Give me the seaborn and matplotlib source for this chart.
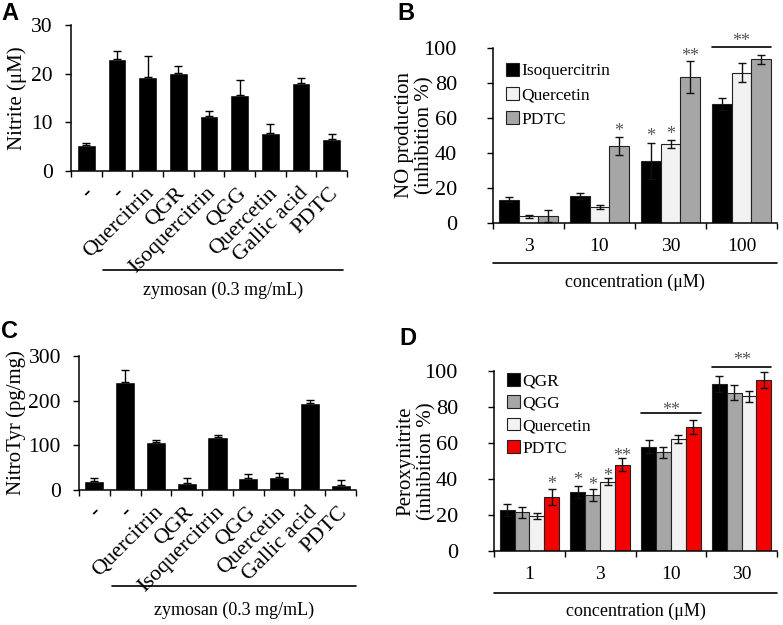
import numpy as np
import pandas as pd
import matplotlib
matplotlib.use("Agg")
import matplotlib.pyplot as plt
import matplotlib.transforms as mtransforms
from matplotlib.patches import Patch
import seaborn as sns

sns.set_theme(style="ticks")
plt.rcParams["font.family"] = ["Liberation Serif", "DejaVu Serif"]
plt.rcParams["text.color"] = "black"
plt.rcParams["axes.labelcolor"] = "black"
plt.rcParams["xtick.color"] = "black"
plt.rcParams["ytick.color"] = "black"
plt.rcParams["axes.edgecolor"] = "black"

# ---------------- data ----------------
treatments = ["-", "-", "Quercitrin", "QGR", "Isoquercitrin", "QGG",
              "Quercetin", "Gallic acid", "PDTC"]
nitrite = [5.4, 23.1, 19.3, 20.2, 11.2, 15.7, 7.9, 18.1, 6.6]
nitrite_err = [0.3, 1.6, 4.4, 1.4, 1.2, 2.9, 1.8, 1.1, 1.0]
nitrotyr = [19.6, 242, 107, 16.6, 119, 26.4, 30, 194, 11.3]
nitrotyr_err = [6.8, 27, 5, 9.8, 5, 9.6, 7.7, 7, 11.3]

conc_B = ["3", "10", "30", "100"]
series_B = ["Isoquercitrin", "Quercetin", "PDTC"]
isoq_B = [13.3, 15.6, 35.3, 68.0]
isoq_B_err = [1.5, 1.6, 10.4, 3.5]
quer_B = [3.8, 9.1, 45.0, 86.0]
quer_B_err = [1.0, 1.2, 2.4, 5.3]
pdtc_B = [3.8, 44.0, 83.5, 93.5]
pdtc_B_err = [3.4, 5.3, 9.2, 2.7]
colors_B = ["#000000", "#f2f2f2", "#a6a6a6"]
stars_B = [("Isoquercitrin", "30", "*", 52), ("Quercetin", "30", "*", 53),
           ("PDTC", "10", "*", 55), ("PDTC", "30", "**", 98)]
bracket_B = [("100", 100.8, 106.5)]

conc_D = ["1", "3", "10", "30"]
series_D = ["QGR", "QGG", "Quercetin", "PDTC"]
qgr_D = [22.8, 33.0, 58.0, 92.8]
qgr_D_err = [3.5, 3.3, 3.7, 4.4]
qgg_D = [21.5, 31.0, 54.8, 88.0]
qgg_D_err = [3.1, 3.3, 3.2, 4.0]
quer_D = [19.4, 38.5, 62.2, 86.0]
quer_D_err = [1.8, 2.0, 2.2, 3.0]
pdtc_D = [29.8, 48.0, 69.0, 95.0]
pdtc_D_err = [4.5, 3.4, 3.8, 4.4]
colors_D = ["#000000", "#a6a6a6", "#f2f2f2", "#f50000"]
stars_D = [("PDTC", "1", "*", 39.4), ("QGR", "3", "*", 41.7), ("QGG", "3", "*", 38.9),
           ("Quercetin", "3", "*", 44.0), ("PDTC", "3", "**", 55.2)]
bracket_D = [("10", 76.8, 80.5), ("30", 102.0, 108.3)]

# ---------------- figure ----------------
W, H = 783, 625
fig = plt.figure(figsize=(W / 100, H / 100), dpi=100)

def rect(l, t, r, b):
    return [l / W, 1 - b / H, (r - l) / W, (b - t) / H]

axA = fig.add_axes(rect(71, 25, 347, 171))
axB = fig.add_axes(rect(493, 48, 777, 223))
axC = fig.add_axes(rect(79, 356, 356, 490))
axD = fig.add_axes(rect(494, 371, 777, 551))


def style_axis(ax, n, labels, ylim, yticks, rotated, xfs, yfs, xpad, ypad):
    ax.set_xlim(-0.5, n - 0.5)
    ax.set_ylim(*ylim)
    ax.set_yticks(yticks)
    ax.set_yticklabels([str(v) for v in yticks], fontsize=yfs)
    ax.set_xticks(np.arange(n + 1) - 0.5)
    ax.set_xticklabels([])
    ax.set_xticks(np.arange(n), minor=True)
    if rotated:
        ax.set_xticklabels(labels, minor=True, rotation=45, ha="right",
                           va="center", rotation_mode="anchor", fontsize=xfs)
    else:
        ax.set_xticklabels(labels, minor=True, fontsize=xfs)
    ax.tick_params(axis="x", which="minor", length=0, pad=xpad)
    ax.tick_params(axis="both", which="major", direction="out", length=4,
                   width=1)
    ax.tick_params(axis="y", which="major", pad=ypad)
    for s in ["top", "right"]:
        ax.spines[s].set_visible(False)
    for s in ["left", "bottom"]:
        ax.spines[s].set_linewidth(1.1)
    ax.set_xlabel("")


def single_panel(ax, vals, errs, width, ylabel, ylim, yticks, line_x, line_y, text_y, ylab_x):
    df = pd.DataFrame({"pos": np.arange(len(vals)), "val": vals})
    sns.barplot(data=df, x="pos", y="val", color="black", saturation=1,
                width=width, errorbar=None, ax=ax)
    cont = ax.containers[0]
    xs = [p.get_x() + p.get_width() / 2 for p in cont]
    ax.errorbar(xs, vals, yerr=[np.zeros(len(vals)), errs], fmt="none",
                ecolor="black", elinewidth=1, capsize=3, capthick=1)
    style_axis(ax, len(vals), treatments, ylim, yticks, True, 16, 15.5, 14, 9)
    shift = mtransforms.ScaledTranslation(4 / 100, 0, fig.dpi_scale_trans)
    for lab in ax.get_xticklabels(minor=True):
        lab.set_transform(lab.get_transform() + shift)
    ax.set_ylabel(ylabel, fontsize=15)
    ax.yaxis.set_label_coords(ylab_x, 0.5)
    tr = mtransforms.blended_transform_factory(ax.transData, ax.transAxes)
    ax.plot(line_x, [line_y, line_y], color="black", lw=1.2, transform=tr,
            clip_on=False)
    ax.text(np.mean(line_x), text_y, "zymosan (0.3 mg/mL)", transform=tr,
            ha="center", va="center", fontsize=13)


single_panel(axA, nitrite, nitrite_err, 0.6, "Nitrite (\u03bcM)", (0, 30),
             [0, 10, 20, 30], [0.55, 8.37], -0.678, -0.815, -0.16)
single_panel(axC, nitrotyr, nitrotyr_err, 0.65, "NitroTyr (pg/mg)", (0, 300),
             [0, 100, 200, 300], [0.57, 8.5], -0.716, -0.896, -0.19)


def grouped_panel(ax, concs, series, vals, errs, colors, width, ylabel,
                  stars, brackets, legend_anchor, label_spacing, line_y, text_y):
    rows = []
    for s, v in zip(series, vals):
        for c, y in zip(concs, v):
            rows.append({"conc": c, "series": s, "val": y})
    df = pd.DataFrame(rows)
    sns.barplot(data=df, x="conc", y="val", hue="series", order=concs,
                hue_order=series, palette=colors, saturation=1, width=width,
                errorbar=None, edgecolor="#222222", linewidth=0.8,
                legend=False, ax=ax)
    centers = {}
    for s, cont, v, e in zip(series, ax.containers, vals, errs):
        xs = [p.get_x() + p.get_width() / 2 for p in cont]
        for c, x in zip(concs, xs):
            centers[(s, c)] = x
        ax.errorbar(xs, v, yerr=e, fmt="none", ecolor="#111111",
                    elinewidth=1, capsize=3, capthick=1)
    for s, c, txt, y in stars:
        ax.annotate(txt, xy=(centers[(s, c)], y), xytext=(0, -6.5),
                    textcoords="offset points", ha="center", va="baseline",
                    fontsize=13, color="#555555", annotation_clip=False)
    half = width / 2
    for c, ly, ty in brackets:
        i = concs.index(c)
        ax.plot([i - half, i + half], [ly, ly], color="black", lw=1.2,
                clip_on=False)
        ax.annotate("**", xy=(i, ty), xytext=(0, -6.5),
                    textcoords="offset points", ha="center", va="baseline",
                    fontsize=13, color="#555555", annotation_clip=False)
    style_axis(ax, len(concs), concs, (0, 100), [0, 20, 40, 60, 80, 100],
               False, 14, 16, 11, 22)
    ax.set_ylabel(ylabel, fontsize=15, linespacing=1.1)
    ax.yaxis.set_label_coords(-0.205, 0.5)
    handles = [Patch(facecolor=col, edgecolor="#222222", linewidth=0.8)
               for col in colors]
    ax.legend(handles, series, loc="upper left", bbox_to_anchor=legend_anchor,
              frameon=False, fontsize=12.5, handlelength=0.75,
              handleheight=0.75, handletextpad=0.15, labelspacing=label_spacing,
              borderaxespad=0, borderpad=0)
    ax.plot([0, 1], [line_y, line_y], color="black", lw=1.2,
            transform=ax.transAxes, clip_on=False)
    ax.text(0.5, text_y, "concentration (\u03bcM)", transform=ax.transAxes,
            ha="center", va="center", fontsize=13)


grouped_panel(axB, conc_B, series_B, [isoq_B, quer_B, pdtc_B],
              [isoq_B_err, quer_B_err, pdtc_B_err], colors_B, 0.82,
              "NO production\n(inhibition %)", stars_B, bracket_B,
              (0.045, 0.915), 0.45, -0.229, -0.337)
grouped_panel(axD, conc_D, series_D, [qgr_D, qgg_D, quer_D, pdtc_D],
              [qgr_D_err, qgg_D_err, quer_D_err, pdtc_D_err], colors_D, 0.84,
              "Peroxynitrite\n(inhibition %)", stars_D, bracket_D,
              (0.045, 0.99), 0.35, -0.232, -0.337)

# panel letters
for letter, x, y in [("A", 1, 2), ("B", 397, 2), ("C", 1, 320), ("D", 399, 327)]:
    fig.text(x / W, 1 - y / H, letter, ha="left", va="top", fontsize=17,
             fontweight="bold", family=["Liberation Sans", "DejaVu Sans"])

fig.savefig("out.png", dpi=100)
